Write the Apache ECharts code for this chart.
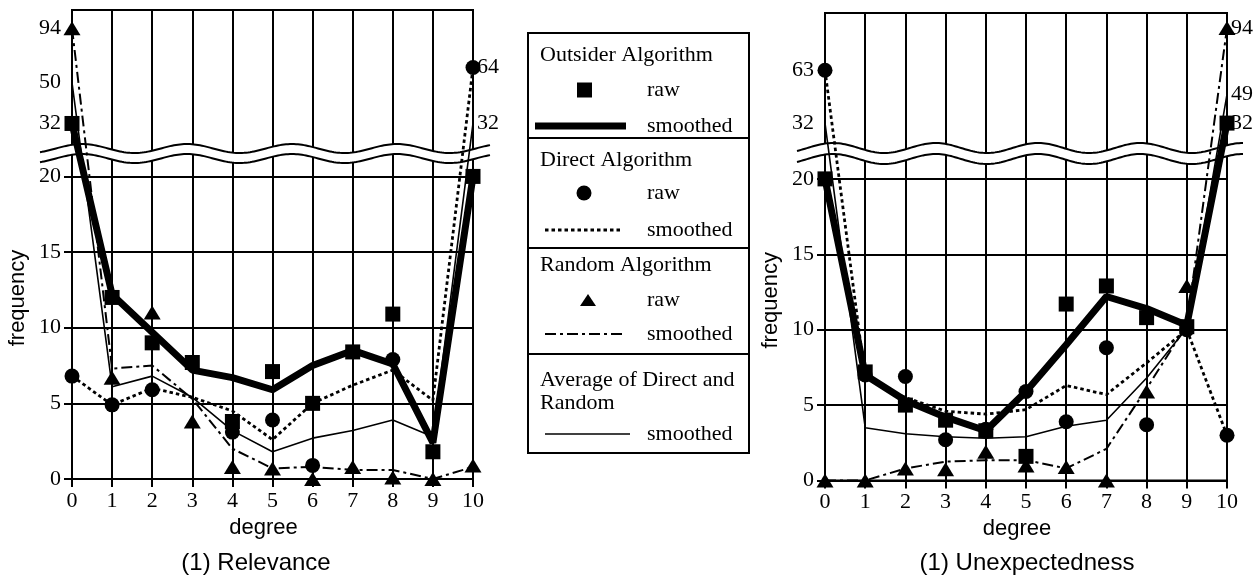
<!DOCTYPE html>
<html>
<head>
<meta charset="utf-8">
<title>Relevance / Unexpectedness frequency by degree</title>
<script src="https://cdn.jsdelivr.net/npm/echarts@6/dist/echarts.min.js"></script>
<style>
  html, body { margin: 0; padding: 0; background: #fff; }
  #chart { width: 1258px; height: 577px; }
</style>
</head>
<body>
<div id="chart"></div>
<script>
// x categories
const degrees = [0, 1, 2, 3, 4, 5, 6, 7, 8, 9, 10];

// y tick labels (below the break) and the labels written above the break
const lowerTicks = [0, 5, 10, 15, 20];
const relLeftTicks = [32, 50, 94];
const relRightTicks = [64, 32];
const unxLeftTicks = [63, 32];
const unxRightTicks = [94, 49, 32];

// (1) Relevance
const relOutsiderRaw = [32, 12, 9, 7.7, 3.8, 7.1, 5.0, 8.4, 10.9, 1.8, 20];
const relOutsiderSmooth = [32, 12.2, 9.7, 7.2, 6.7, 5.9, 7.5, 8.5, 7.6, 2.4, 20];
const relDirectRaw = [6.8, 4.9, 5.9, null, 3.1, 3.9, 0.9, null, 7.9, null, 64];
const relDirectSmooth = [6.8, 4.9, 6.0, 5.4, 4.5, 2.6, 5.0, 6.2, 7.2, 5.2, 64];
const relRandomRaw = [94, 6.7, 11, 3.8, 0.8, 0.7, 0, 0.8, 0.1, 0, 0.9];
const relRandomSmooth = [94, 7.3, 7.5, 5.3, 2.0, 0.7, 0.8, 0.6, 0.6, 0, 0.8];
const relAverageSmooth = [50, 6.1, 6.8, 5.4, 3.2, 1.8, 2.7, 3.2, 3.9, 2.8, 32];

// (1) Unexpectedness
const unxOutsiderRaw = [20, 7.2, 5.0, 4.0, 3.3, 1.6, 11.7, 12.9, 10.8, 10.2, 32];
const unxOutsiderSmooth = [20, 7.0, 5.3, 4.2, 3.3, 5.9, 9.0, 12.2, 11.4, 10.3, 32];
const unxDirectRaw = [63, 7.0, 6.9, 2.7, 3.4, 5.9, 3.9, 8.8, 3.7, 10.0, 3.0];
const unxDirectSmooth = [63, 6.8, 5.5, 4.6, 4.4, 4.7, 6.3, 5.7, 7.8, 10.0, 3.0];
const unxRandomRaw = [0, 0, 0.8, 0.75, 1.9, 1.0, 0.9, 0, 5.9, 12.9, 94];
const unxRandomSmooth = [0, 0, 0.8, 1.25, 1.35, 1.35, 0.8, 2.1, 6.1, 10.3, 94];
const unxAverageSmooth = [32, 3.5, 3.1, 2.9, 2.8, 2.9, 3.6, 4.0, 6.8, 10.1, 49];

// the y axis is linear up to 20, then compressed (broken scale)
function brokenScale(values, stops) {
  return function (v) {
    if (v == null) return null;
    if (v <= values[0]) return v;
    for (let i = 1; i < values.length; i++) {
      if (v <= values[i]) {
        const f = (v - values[i - 1]) / (values[i] - values[i - 1]);
        return stops[i - 1] + f * (stops[i] - stops[i - 1]);
      }
    }
    return stops[stops.length - 1];
  };
}

const panels = [
  {
    title: '(1) Relevance',
    grid: { left: 72, top: 10, width: 401, height: 469 },
    scale: brokenScale([20, 32, 50, 64, 94], [20, 23.5, 26.2, 27.2, 29.8]),
    leftTicks: relLeftTicks, rightTicks: relRightTicks,
    outsiderRaw: relOutsiderRaw, outsiderSmooth: relOutsiderSmooth,
    directRaw: relDirectRaw, directSmooth: relDirectSmooth,
    randomRaw: relRandomRaw, randomSmooth: relRandomSmooth,
    averageSmooth: relAverageSmooth
  },
  {
    title: '(1) Unexpectedness',
    grid: { left: 825, top: 13, width: 402, height: 467.5 },
    scale: brokenScale([20, 32, 49, 63, 94], [20, 23.7, 25.6, 27.2, 30.0]),
    leftTicks: unxLeftTicks, rightTicks: unxRightTicks,
    outsiderRaw: unxOutsiderRaw, outsiderSmooth: unxOutsiderSmooth,
    directRaw: unxDirectRaw, directSmooth: unxDirectSmooth,
    randomRaw: unxRandomRaw, randomSmooth: unxRandomSmooth,
    averageSmooth: unxAverageSmooth
  }
];

const serif = 'Liberation Serif';
const sans = 'Liberation Sans';
const black = '#000';

// line / marker styles shared by the plots and the legend box
const styles = {
  outsiderSmooth: { width: 7 },
  directSmooth: { width: 2.8, type: [3.5, 3] },
  randomSmooth: { width: 2, type: [11, 4, 3, 4] },
  averageSmooth: { width: 1.6 }
};

function labelFormatter(T, originals) {
  return function (t) {
    for (const v of originals) {
      if (Math.abs(T(v) - t) < 1e-6) return String(v);
    }
    return '';
  };
}

const grids = [], xAxes = [], yAxes = [], series = [], titles = [];

panels.forEach(function (p, gi) {
  const T = p.scale;
  const pts = arr => degrees.map((d, i) => (arr[i] == null ? null : [d, T(arr[i])])).filter(Boolean);
  const leftLabels = lowerTicks.concat(p.leftTicks);

  grids.push(Object.assign({ show: true, borderColor: black, borderWidth: 2 }, p.grid));

  xAxes.push({
    gridIndex: gi, type: 'value', min: 0, max: 10, interval: 1,
    name: 'degree', nameLocation: 'middle', nameGap: 37,
    nameTextStyle: { fontFamily: sans, fontSize: 22, color: black, padding: [0, 18, 0, 0] },
    axisLine: { lineStyle: { color: black, width: 2 } },
    axisTick: { length: 8, lineStyle: { color: black, width: 2 } },
    axisLabel: { fontFamily: serif, fontSize: 22, color: black, margin: 11 },
    splitLine: { show: true, lineStyle: { color: black, width: 2 } }
  });

  yAxes.push({
    gridIndex: gi, type: 'value', min: 0, max: 31, position: 'left',
    name: 'frequency', nameLocation: 'middle', nameGap: 43, nameRotate: 90,
    nameTextStyle: { fontFamily: sans, fontSize: 22, color: black, padding: [0, 107, 0, 0] },
    axisLine: { show: true, lineStyle: { color: black, width: 2 } },
    axisTick: { show: true, length: 8, customValues: lowerTicks, lineStyle: { color: black, width: 2 } },
    axisLabel: {
      customValues: leftLabels.map(T), formatter: labelFormatter(T, leftLabels),
      fontFamily: serif, fontSize: 22, color: black, margin: 11
    },
    splitLine: { show: false }
  });

  // labels of the end points written on the right edge
  yAxes.push({
    gridIndex: gi, type: 'value', min: 0, max: 31, position: 'right',
    axisLine: { show: false }, axisTick: { show: false }, splitLine: { show: false },
    axisLabel: {
      customValues: p.rightTicks.map(T), formatter: labelFormatter(T, p.rightTicks),
      fontFamily: serif, fontSize: 22, color: black, margin: 4
    }
  });

  const axes = { xAxisIndex: gi, yAxisIndex: gi * 2 };
  const line = (name, arr, lineStyle, extra) => Object.assign({
    name: name, type: 'line', data: pts(arr), symbol: 'none',
    itemStyle: { color: black },
    lineStyle: Object.assign({ color: black }, lineStyle)
  }, axes, extra || {});
  const dots = (name, arr, symbol, size) => Object.assign({
    name: name, type: 'scatter', data: pts(arr), symbol: symbol, symbolSize: size,
    itemStyle: { color: black, opacity: 1 }
  }, axes);

  series.push(
    line('Average smoothed', p.averageSmooth, styles.averageSmooth, {
      markLine: {
        silent: true, symbol: ['none', 'none'], label: { show: false },
        lineStyle: { color: black, width: 2, type: 'solid' },
        data: lowerTicks.slice(1).map(v => ({ yAxis: v }))
      }
    }),
    line('Random smoothed', p.randomSmooth, styles.randomSmooth),
    line('Direct smoothed', p.directSmooth, styles.directSmooth),
    line('Outsider smoothed', p.outsiderSmooth, styles.outsiderSmooth),
    dots('Random raw', p.randomRaw, 'triangle', [17, 14]),
    dots('Direct raw', p.directRaw, 'circle', 15),
    dots('Outsider raw', p.outsiderRaw, 'rect', 15)
  );

  titles.push({
    text: p.title, left: p.grid.left + (gi === 0 ? 184 : 202), top: 551, textAlign: 'center', padding: 0,
    textStyle: { fontFamily: sans, fontSize: 24, fontWeight: 'normal', color: black }
  });
});

// wavy break band drawn across each panel
function wave(x0, x1, phaseX, period, midY, amp) {
  const out = [];
  for (let x = x0; x <= x1; x += 2) {
    out.push([x, midY - amp * Math.cos(2 * Math.PI * (x - phaseX) / period)]);
  }
  return out;
}
function breakBand(x0, x1, phaseX, period, topY, botY, amp) {
  const top = wave(x0, x1, phaseX, period, topY, amp);
  const bot = wave(x0, x1, phaseX, period, botY, amp);
  return [
    { type: 'polygon', z: 1, shape: { points: top.concat(bot.slice().reverse()) }, style: { fill: '#fff' } },
    { type: 'polyline', z: 1, shape: { points: top }, style: { stroke: black, lineWidth: 2, fill: null } },
    { type: 'polyline', z: 1, shape: { points: bot }, style: { stroke: black, lineWidth: 2, fill: null } }
  ];
}

// legend box: frame, section dividers, headers and the key rows
const legendHeaders = [
  { text: 'Outsider Algorithm', y: 55 },
  { text: 'Direct Algorithm', y: 160 },
  { text: 'Random Algorithm', y: 265 },
  { text: 'Average of Direct and', y: 380 },
  { text: 'Random', y: 403 }
];
const legendRows = [
  { label: 'raw', y: 90, mark: 'rect' },
  { label: 'smoothed', y: 126, line: styles.outsiderSmooth, x1: 535, x2: 626 },
  { label: 'raw', y: 193, mark: 'circle' },
  { label: 'smoothed', y: 230, line: styles.directSmooth, x1: 545, x2: 620 },
  { label: 'raw', y: 300, mark: 'triangle' },
  { label: 'smoothed', y: 334, line: styles.randomSmooth, x1: 545, x2: 626 },
  { label: 'smoothed', y: 434, line: styles.averageSmooth, x1: 545, x2: 630 }
];

function legendKey(r) {
  if (r.mark === 'rect') {
    return { type: 'rect', shape: { x: 577, y: r.y - 7.5, width: 15, height: 15 }, style: { fill: black } };
  }
  if (r.mark === 'circle') {
    return { type: 'circle', shape: { cx: 584, cy: r.y, r: 7.5 }, style: { fill: black } };
  }
  if (r.mark === 'triangle') {
    return { type: 'polygon', shape: { points: [[588, r.y - 6], [596, r.y + 6], [580, r.y + 6]] }, style: { fill: black } };
  }
  return {
    type: 'line', shape: { x1: r.x1, y1: r.y, x2: r.x2, y2: r.y },
    style: { stroke: black, lineWidth: r.line.width, lineDash: r.line.type || null }
  };
}

const legendGraphic = [
  { type: 'rect', shape: { x: 528, y: 33, width: 221, height: 420 }, style: { fill: 'none', stroke: black, lineWidth: 2 } }
].concat([138, 248, 354].map(y => ({
  type: 'line', shape: { x1: 528, y1: y, x2: 749, y2: y }, style: { stroke: black, lineWidth: 2 }
}))).concat(legendHeaders.map(h => ({
  type: 'text', x: 540, y: h.y,
  style: { text: h.text, fontFamily: serif, fontSize: 22, fill: black, align: 'left', verticalAlign: 'middle' }
}))).concat(legendRows.map(legendKey)).concat(legendRows.map(r => ({
  type: 'text', x: 647, y: r.y,
  style: { text: r.label, fontFamily: serif, fontSize: 22, fill: black, align: 'left', verticalAlign: 'middle' }
})));

const myChart = echarts.init(document.getElementById('chart'));
myChart.setOption({
  animation: false,
  backgroundColor: '#fff',
  color: [black],
  title: titles,
  grid: grids,
  xAxis: xAxes,
  yAxis: yAxes,
  graphic: breakBand(40, 490, 82, 105, 148.5, 158.5, 4.5)
    .concat(breakBand(797, 1243, 833, 102.5, 148, 159, 5))
    .concat(legendGraphic),
  series: series
});
</script>
</body>
</html>
